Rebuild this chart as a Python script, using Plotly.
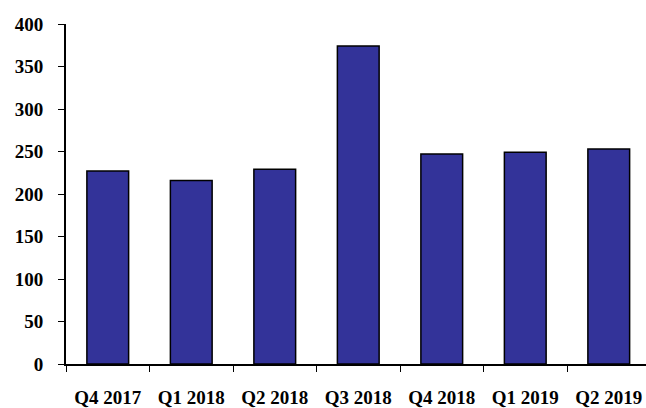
import plotly.graph_objects as go

quarters = ["Q4 2017", "Q1 2018", "Q2 2018", "Q3 2018", "Q4 2018", "Q1 2019", "Q2 2019"]
values = [227, 216, 229, 374, 247, 249, 253]
y_ticks = [0, 50, 100, 150, 200, 250, 300, 350, 400]

family = "Liberation Serif, Times New Roman, serif"

fig = go.Figure(
    go.Bar(
        x=quarters,
        y=values,
        marker=dict(color="#333399", line=dict(color="black", width=1.5)),
        width=0.5,
    )
)

fig.update_layout(
    width=646,
    height=408,
    margin=dict(l=66, r=0, t=24, b=44),
    paper_bgcolor="white",
    plot_bgcolor="white",
    showlegend=False,
    font=dict(family=family, color="black"),
)

fig.update_xaxes(
    type="category",
    range=[-0.5, 6.446],
    automargin=False,
    showline=True,
    linecolor="black",
    linewidth=1.5,
    ticks="outside",
    tickson="boundaries",
    ticklen=6,
    tickcolor="black",
    tickwidth=1,
    ticklabelstandoff=15,
    tickfont=dict(family=family, size=19, color="black", weight="bold"),
    showgrid=False,
)

fig.update_yaxes(
    range=[0, 400],
    tickvals=y_ticks,
    automargin=False,
    showline=True,
    linecolor="black",
    linewidth=2,
    ticks="outside",
    ticklen=6,
    tickcolor="black",
    tickwidth=1,
    ticklabelstandoff=11,
    tickfont=dict(family=family, size=19, color="black", weight="bold"),
    showgrid=False,
    zeroline=False,
)

fig.write_html("out.html")
